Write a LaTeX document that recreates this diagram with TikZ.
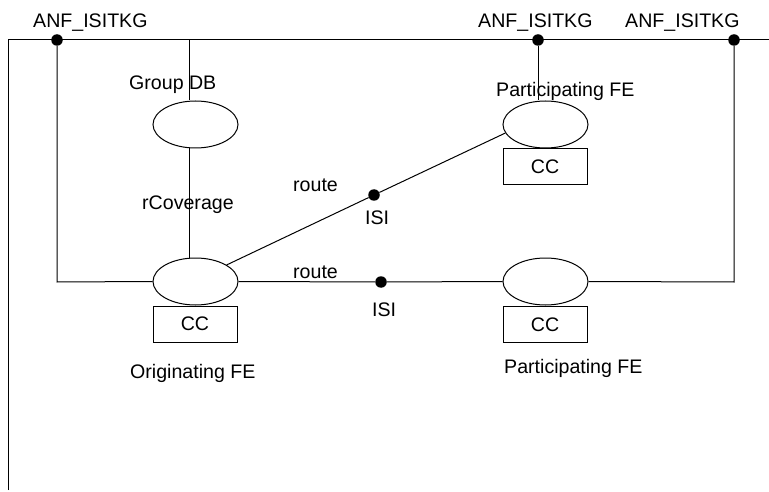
\documentclass[tikz,border=0pt]{standalone}
\usepackage{fontspec}
\setmainfont{Liberation Sans}
\usetikzlibrary{shapes.geometric}
\begin{document}
\begin{tikzpicture}[x=1pt,y=-1pt,
  wire/.style={draw=black,line width=1pt},
  fe/.style={ellipse,draw=black,line width=1pt,minimum width=85pt,minimum height=47pt,inner sep=0pt},
  ccbox/.style={rectangle,draw=black,line width=1pt,minimum width=84pt,minimum height=36pt,inner sep=0pt,font=\fontsize{19.6}{22}\selectfont},
  lbl/.style={anchor=base west,inner sep=0pt,font=\fontsize{19.6}{22}\selectfont},
  dot/.style={circle,fill=black,minimum size=11.5pt,inner sep=0pt}]
\useasboundingbox (0,0) rectangle (769,492);
\fill[white] (0,0) rectangle (769,492);

% bus frame
\coordinate (tl) at (8,40);
\coordinate (tr) at (769,40);
\coordinate (bl) at (8,490);
\draw[wire] (bl) -- (tl) -- (tr);

% access points on the bus
\node[dot] (ap1) at (57,40) {};
\node[dot] (ap2) at (538,40) {};
\node[dot] (ap3) at (734,40) {};
\node[lbl] (apl1) at (33,28) {ANF\_ISITKG};
\node[lbl] (apl2) at (478,28) {ANF\_ISITKG};
\node[lbl] (apl3) at (625,28) {ANF\_ISITKG};

% functional entities
\node[fe] (gdb) at (195.5,124.5) {};
\node[fe] (orig) at (195.5,281.5) {};
\node[fe] (pu) at (545.5,124.5) {};
\node[fe] (pl) at (545.5,281.5) {};

\node[ccbox] (cco) at (195,324) {CC};
\node[ccbox] (ccu) at (545,167) {CC};
\node[ccbox] (ccl) at (545,324.5) {CC};

% ISI points
\node[dot] (isiu) at (374,195) {};
\node[dot] (isil) at (381,282) {};

% connectors
\coordinate (gtop) at (189,40);
\coordinate (c1) at (57,282);
\coordinate (c2) at (734,282);
\draw[wire] (gtop) -- (gtop |- gdb.north);
\draw[wire] (gdb.south -| gtop) -- (orig.north -| gtop);
\draw[wire] (ap1) -- (c1) -- (orig.west);
\draw[wire] (orig.east) -- (isil) -- (pl.west);
\draw[wire] (pl.east) -- (c2) -- (ap3);
\draw[wire] (ap2) -- (ap2 |- pu.north);
\draw[wire] (orig.28) -- (isiu) -- (pu.192);

% labels
\node[lbl] (lgdb) at (129,89.5) {Group DB};
\node[lbl] (lpu) at (496,97) {Participating FE};
\node[lbl] (lrc) at (142,210) {rCoverage};
\node[lbl] (lru) at (293,192) {route};
\node[lbl] (liu) at (365,224.5) {ISI};
\node[lbl] (lrl) at (293,278) {route};
\node[lbl] (lil) at (372,316) {ISI};
\node[lbl] (lo) at (130,378.5) {Originating FE};
\node[lbl] (lpl) at (504,373.5) {Participating FE};
\end{tikzpicture}
\end{document}
